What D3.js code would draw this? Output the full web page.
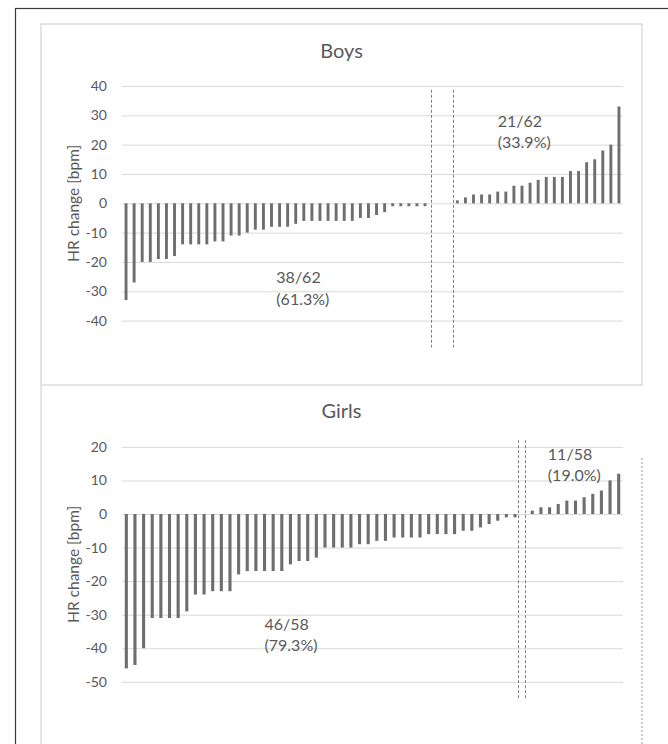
<!DOCTYPE html>
<html><head><meta charset="utf-8">
<script src="https://cdn.jsdelivr.net/npm/d3@7"></script>
<style>
html,body{margin:0;padding:0;background:#fff;}
svg{display:block;font-family:Lato,"Noto Sans",sans-serif;}
</style></head>
<body>
<svg id="c" width="668" height="744"></svg>
<script>
// ---------- data ----------
const boysValues = [-33,-27,-20,-20,-19,-19,-18,-14,-14,-14,-14,-13,-13,-11,-11,-10,-9,-9,-8,-8,
  -8,-7,-6,-6,-6,-6,-6,-6,-6,-5,-5,-4,-3,-1,-1,-1,-1,-1,0,0,0,
  1,2,3,3,3,4,4,6,6,7,8,9,9,9,11,11,14,15,18,20,33];
const girlsValues = [-46,-45,-40,-31,-31,-31,-31,-29,-24,-24,-23,-23,-23,-18,-17,-17,-17,-17,-17,-15,
  -14,-14,-13,-10,-10,-10,-10,-9,-9,-8,-8,-7,-7,-7,-7,-6,-6,-6,-6,-5,-5,-4,-3,-2,-1,-1,0,
  1,2,2,3,4,4,5,6,7,10,12];
const boysTicks = [40,30,20,10,0,-10,-20,-30,-40];
const girlsTicks = [20,10,0,-10,-20,-30,-40,-50];
const boysDomain = [-40,40];
const girlsDomain = [-50,20];
const titles = ["Boys","Girls"];
const yAxisTitle = "HR change [bpm]";
const boysNotes = [{x:46.5, y:28, lines:["21/62","(33.9%)"]},{x:19.1, y:-25.4, lines:["38/62","(61.3%)"]}];
const girlsNotes = [{x:49.3, y:17.9, lines:["11/58","(19.0%)"]},{x:16.5, y:-32.8, lines:["46/58","(79.3%)"]}];
const boysDividers = [38.2, 41.0];
const girlsDividers = [45.9, 46.7];
const boysDividerSpan = [38.7, -49.2];
const girlsDividerSpan = [22, -55.5];

// ---------- drawing ----------
const svg = d3.select("#c");
const grey = "#595959", gridC = "#d9d9d9", barC = "#6e6e6e";

// outer frame
svg.append("rect").attr("x",15.5).attr("y",8.5).attr("width",700).attr("height",800)
  .attr("fill","none").attr("stroke","#3a3a3a").attr("stroke-width",1.2);
// chart boxes
svg.append("rect").attr("x",41).attr("y",24).attr("width",601).attr("height",361)
  .attr("fill","none").attr("stroke","#dcdcdc").attr("stroke-width",1.5);
svg.append("path").attr("d","M41,385V760").attr("stroke","#dcdcdc").attr("stroke-width",1.5).attr("fill","none");
svg.append("path").attr("d","M642,458V744").attr("stroke","#a0a0a0").attr("stroke-width",1)
  .attr("stroke-dasharray","2,2").attr("fill","none");

const xLeft = 122, xRight = 623;

function panel(values, ticks, domain, yTop, yBottom, title, titleY, notes, dividers, span){
  const g = svg.append("g");
  const x = d3.scaleBand().domain(d3.range(values.length)).range([xLeft,xRight])
    .paddingInner(0.64).paddingOuter(0.32);
  const xi = d3.scaleLinear().domain([0,values.length]).range([xLeft,xRight]);
  const y = d3.scaleLinear().domain(domain).range([yBottom,yTop]);

  // grid
  g.append("g").attr("transform",`translate(${xLeft},0)`)
    .call(d3.axisLeft(y).tickValues(ticks).tickSize(-(xRight-xLeft)).tickFormat(""))
    .call(a=>a.select(".domain").remove())
    .call(a=>a.selectAll("line").attr("stroke",gridC).attr("stroke-width",1));
  // labels
  g.append("g").attr("transform",`translate(${xLeft},0)`)
    .call(d3.axisLeft(y).tickValues(ticks).tickSize(0).tickPadding(15).tickFormat(d=>String(d)))
    .call(a=>a.select(".domain").remove())
    .call(a=>a.selectAll("text").attr("fill",grey).attr("font-size",14).attr("font-family","Lato,'Noto Sans',sans-serif"));

  // bars
  g.selectAll("rect.bar").data(values).join("rect").attr("class","bar")
    .attr("x",(d,i)=>x(i)).attr("width",x.bandwidth())
    .attr("y",d=>y(Math.max(0,d))).attr("height",d=>Math.abs(y(d)-y(0)))
    .attr("fill",barC);

  // dividers
  g.selectAll("line.div").data(dividers).join("line").attr("class","div")
    .attr("x1",d=>Math.round(xi(d))+0.5).attr("x2",d=>Math.round(xi(d))+0.5)
    .attr("y1",y(span[0])).attr("y2",y(span[1]))
    .attr("stroke","#7f7f7f").attr("stroke-width",1).attr("stroke-dasharray","3,2");

  // title
  g.append("text").attr("x",341.5).attr("y",titleY).attr("text-anchor","middle")
    .attr("dominant-baseline","middle").attr("font-size",20).attr("fill",grey).text(title);
  // y title
  const ym = (yTop+yBottom)/2;
  g.append("text").attr("transform",`translate(79,${ym}) rotate(-90)`).attr("text-anchor","middle")
    .attr("font-size",15.5).attr("fill",grey).text(yAxisTitle);

  // notes
  notes.forEach(n=>{
    const t = g.append("text").attr("x",xi(n.x)).attr("y",y(n.y)).attr("font-size",16).attr("fill",grey);
    n.lines.forEach((l,k)=>{
      t.append("tspan").attr("x",xi(n.x)).attr("dy",k===0?"0.35em":"1.35em").text(l);
    });
  });
}

panel(boysValues, boysTicks, boysDomain, 86, 320.6, titles[0], 53, boysNotes, boysDividers, boysDividerSpan);
panel(girlsValues, girlsTicks, girlsDomain, 446.9, 681.8, titles[1], 413, girlsNotes, girlsDividers, girlsDividerSpan);
</script>
</body></html>
